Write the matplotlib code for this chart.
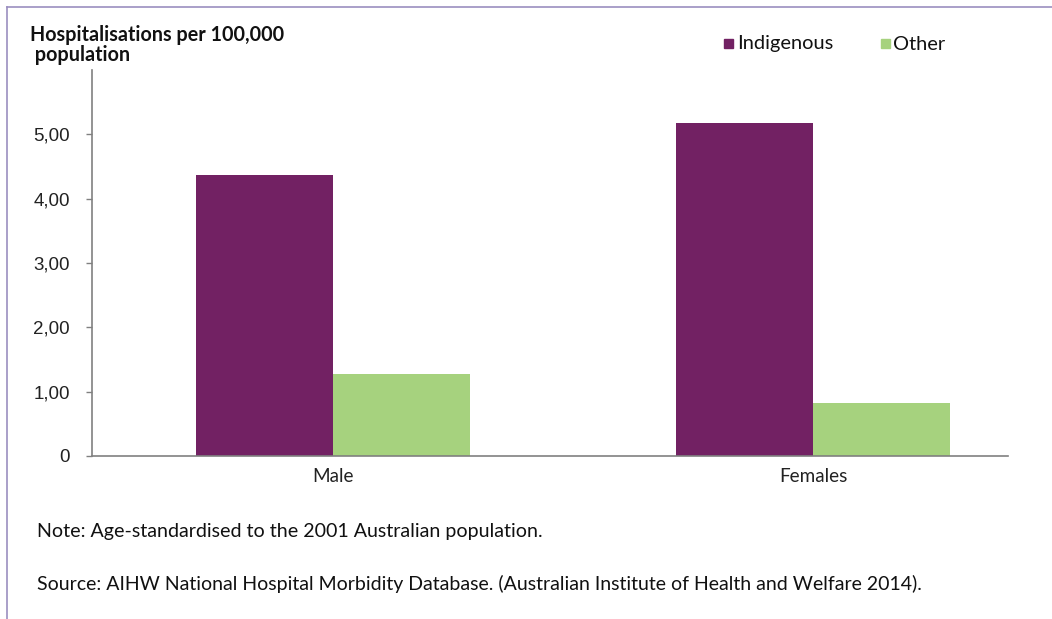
import matplotlib.pyplot as plt
from matplotlib.lines import Line2D
from matplotlib.patches import Rectangle

categories = ['Male', 'Females']
indigenous = [4.37, 5.18]
other = [1.28, 0.83]
ytick_vals = [0, 1, 2, 3, 4, 5]
ytick_labels = ['0', '1,00', '2,00', '3,00', '4,00', '5,00']

purple = '#722163'
green = '#a6d27e'
calibri = ['Lato', 'DejaVu Sans']
W, H = 1052, 619

fig = plt.figure(figsize=(10.52, 6.19), dpi=100)
ax = fig.add_axes([92/W, 1 - 456/H, (1008-92)/W, (456-70)/H])

x = list(range(len(categories)))
w = 0.286
ax.bar([i - w/2 for i in x], indigenous, width=w, color=purple)
ax.bar([i + w/2 for i in x], other, width=w, color=green)

ax.set_xlim(-0.502, 1.406)
ax.set_ylim(0, 6)
ax.set_yticks(ytick_vals)
ax.set_yticklabels(ytick_labels, fontsize=13.5, family='Liberation Sans', color='#222222')
ax.set_xticks(x)
ax.set_xticklabels(categories, fontsize=13.6, family=calibri, color='#222222')
ax.tick_params(axis='x', length=0, pad=9)
ax.tick_params(axis='y', length=4, width=1, color='#808080', pad=12)
for s in ['top', 'right']:
    ax.spines[s].set_visible(False)
for s in ['left', 'bottom']:
    ax.spines[s].set_color('#808080')
    ax.spines[s].set_linewidth(1.2)

# axis title in top-left corner
fig.text(30/W, 1 - 45/H, 'Hospitalisations per 100,000\n population', fontsize=14.2,
         fontweight='bold', family=calibri, color='#111111', va='center', ha='left', linespacing=1.05)

# legend, drawn by hand
fig.add_artist(Rectangle((724/W, 1 - 48/H), 9/W, 9/H, color=purple, transform=fig.transFigure))
fig.text(737/W, 1 - 44/H, 'Indigenous', fontsize=14.4, family=calibri, color='#111111', va='center')
fig.add_artist(Rectangle((881/W, 1 - 48/H), 9/W, 9/H, color=green, transform=fig.transFigure))
fig.text(893/W, 1 - 44/H, 'Other', fontsize=14.4, family=calibri, color='#111111', va='center')

fig.text(37/W, 1 - 531/H, 'Note: Age-standardised to the 2001 Australian population.',
         fontsize=14.1, family=calibri, color='#111111', va='center')
fig.text(37/W, 1 - 584/H,
         'Source: AIHW National Hospital Morbidity Database. (Australian Institute of Health and Welfare 2014).',
         fontsize=14.0, family=calibri, color='#111111', va='center')

# page border
fig.add_artist(Line2D([7/W, 1], [1 - 7/H, 1 - 7/H], color='#9b8fc0', lw=1.2, transform=fig.transFigure))
fig.add_artist(Line2D([7/W, 7/W], [0, 1 - 7/H], color='#9b8fc0', lw=1.2, transform=fig.transFigure))

fig.savefig('out.png', dpi=100)
